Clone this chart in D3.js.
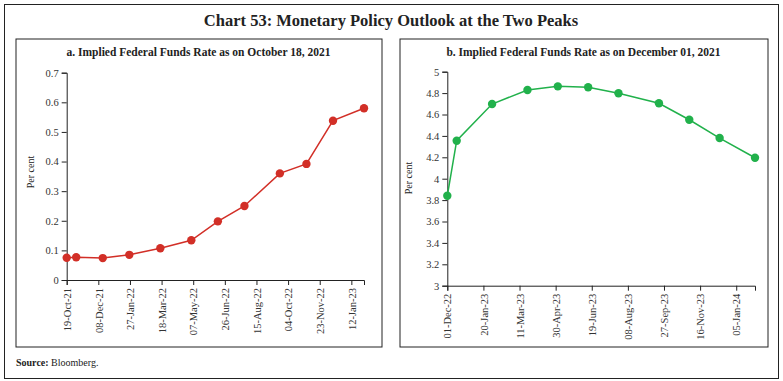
<!DOCTYPE html>
<html>
<head>
<meta charset="utf-8">
<script src="https://cdn.jsdelivr.net/npm/d3@7"></script>
<style>
  html, body { margin: 0; padding: 0; background: #fff; }
  svg { display: block; }
</style>
</head>
<body>
<svg id="chart" width="783" height="381"></svg>
<script>
// ---- Data ----
const chartTitle = "Chart 53: Monetary Policy Outlook at the Two Peaks";
const titleA = "a. Implied Federal Funds Rate as on October 18, 2021";
const titleB = "b. Implied Federal Funds Rate as on December 01, 2021";

const datesA = ["19-Oct-21","03-Nov-21","15-Dec-21","26-Jan-22","16-Mar-22","04-May-22","15-Jun-22","27-Jul-22","21-Sep-22","02-Nov-22","14-Dec-22","01-Feb-23"];
const valuesA = [0.075, 0.077, 0.074, 0.085, 0.107, 0.134, 0.198, 0.250, 0.360, 0.392, 0.538, 0.580];
const xTicksA = ["19-Oct-21","08-Dec-21","27-Jan-22","18-Mar-22","07-May-22","26-Jun-22","15-Aug-22","04-Oct-22","23-Nov-22","12-Jan-23"];
const yTicksA = [0, 0.1, 0.2, 0.3, 0.4, 0.5, 0.6, 0.7];

const datesB = ["01-Dec-22","14-Dec-22","01-Feb-23","22-Mar-23","03-May-23","14-Jun-23","26-Jul-23","20-Sep-23","01-Nov-23","13-Dec-23","31-Jan-24"];
const valuesB = [3.84, 4.355, 4.698, 4.829, 4.863, 4.854, 4.798, 4.705, 4.551, 4.380, 4.196];
const xTicksB = ["01-Dec-22","20-Jan-23","11-Mar-23","30-Apr-23","19-Jun-23","08-Aug-23","27-Sep-23","16-Nov-23","05-Jan-24"];
const yTicksB = [3, 3.2, 3.4, 3.6, 3.8, 4, 4.2, 4.4, 4.6, 4.8, 5];

const yLabel = "Per cent";
const sourceLabel = "Source:";
const sourceText = " Bloomberg.";

// ---- Drawing ----
const parse = d3.timeParse("%d-%b-%y");
const fmt = d3.timeFormat("%d-%b-%y");
const svg = d3.select("#chart");
const serif = "'Liberation Serif', 'DejaVu Serif', serif";

// outer border
svg.append("rect").attr("x", 4.5).attr("y", 4.5).attr("width", 774).attr("height", 374)
  .attr("fill", "none").attr("stroke", "#222").attr("stroke-width", 1);

svg.append("text").attr("x", 391).attr("y", 26).attr("text-anchor", "middle")
  .attr("font-family", serif).attr("font-size", 16.5).attr("font-weight", "bold")
  .attr("fill", "#222").text(chartTitle);

const src = svg.append("text").attr("x", 16).attr("y", 366)
  .attr("font-family", serif).attr("font-size", 10).attr("fill", "#222");
src.append("tspan").attr("font-weight", "bold").text(sourceLabel);
src.append("tspan").text(sourceText);

function panel(cfg) {
  const g = svg.append("g");
  g.append("rect").attr("x", cfg.box[0] + 0.5).attr("y", cfg.box[1] + 0.5)
    .attr("width", cfg.box[2]).attr("height", cfg.box[3])
    .attr("fill", "none").attr("stroke", "#222").attr("stroke-width", 1);
  g.append("text").attr("x", cfg.box[0] + cfg.box[2] / 2).attr("y", cfg.box[1] + 17)
    .attr("text-anchor", "middle").attr("font-family", serif).attr("font-size", 11.5)
    .attr("font-weight", "bold").attr("fill", "#222").text(cfg.title);

  const dates = cfg.dates.map(parse);
  const x = d3.scaleTime().domain([dates[0], dates[dates.length - 1]]).range(cfg.xr);
  const y = d3.scaleLinear().domain([cfg.yTicks[0], cfg.yTicks[cfg.yTicks.length - 1]]).range(cfg.yr);

  const ya = g.append("g").attr("transform", `translate(${cfg.xr[0]},0)`)
    .call(d3.axisLeft(y).tickValues(cfg.yTicks).tickSize(5).tickPadding(3).tickFormat(d => String(+d.toFixed(1))));
  const xa = g.append("g").attr("transform", `translate(0,${cfg.yr[0]})`)
    .call(d3.axisBottom(x).tickValues(cfg.xTicks.map(parse)).tickSize(5).tickFormat(fmt));
  [ya, xa].forEach(a => {
    a.select(".domain").attr("stroke", "#222");
    a.selectAll(".tick line").attr("stroke", "#222");
    a.selectAll("text").attr("font-family", serif).attr("font-size", 10.5).attr("fill", "#333");
  });
  xa.selectAll(".tick text").attr("transform", "rotate(-90)")
    .attr("text-anchor", "end").attr("x", -8).attr("y", 0).attr("dy", "0.35em");

  g.append("text").attr("transform", `translate(${cfg.ylx},${cfg.yly}) rotate(-90)`)
    .attr("text-anchor", "middle").attr("font-family", serif).attr("font-size", 10)
    .attr("fill", "#222").text(yLabel);

  const pts = dates.map((d, i) => [d, cfg.values[i]]);
  g.append("path").datum(pts).attr("fill", "none").attr("stroke", cfg.color).attr("stroke-width", 1.5)
    .attr("d", d3.line().x(d => x(d[0])).y(d => y(d[1])));
  g.selectAll("circle.pt").data(pts).join("circle").attr("class", "pt")
    .attr("cx", d => x(d[0])).attr("cy", d => y(d[1])).attr("r", 4.2).attr("fill", cfg.color);
}

panel({
  box: [15.5, 38.5, 366, 308], title: titleA, dates: datesA, values: valuesA,
  xTicks: xTicksA, yTicks: yTicksA, xr: [66.7, 364], yr: [280, 72.7],
  color: "#d22f27", ylx: 34, yly: 172
});
panel({
  box: [399.5, 38.5, 368, 308], title: titleB, dates: datesB, values: valuesB,
  xTicks: xTicksB, yTicks: yTicksB, xr: [447.3, 755], yr: [285.7, 71.7],
  color: "#21b14b", ylx: 412, yly: 178
});
</script>
</body>
</html>
